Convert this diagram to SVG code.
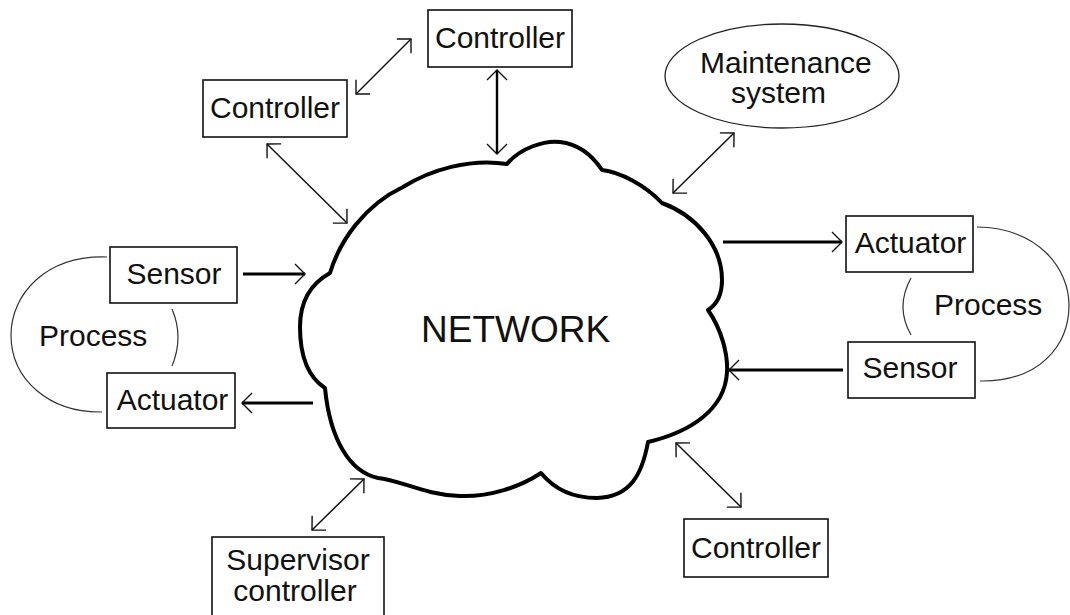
<svg xmlns="http://www.w3.org/2000/svg" width="1070" height="615" viewBox="0 0 1070 615">
  <style>
    .box { fill: #ffffff; stroke: #111111; stroke-width: 1.6; }
    .lbl { font-family: "Liberation Sans", Arial, sans-serif; font-size: 30px; fill: #111111; }
    .mid { text-anchor: middle; }
    .cloud { fill: #ffffff; stroke: #000000; stroke-width: 4; stroke-linejoin: round; }
    .loop { fill: none; stroke: #333333; stroke-width: 1.2; }
    .thin { stroke: #111111; stroke-width: 1.5; fill: none; }
    .thick { stroke: #000000; stroke-width: 3; fill: none; }
    .mid-w { stroke: #000000; stroke-width: 2.4; fill: none; }
    .tip { marker-end: url(#head); }
    .both { marker-start: url(#head); marker-end: url(#head); }
  </style>
  <defs>
    <!-- open V arrowhead, fixed size regardless of line weight -->
    <marker id="head" markerUnits="userSpaceOnUse" markerWidth="20" markerHeight="30" refX="0" refY="0" orient="auto-start-reverse" style="overflow:visible">
      <path d="M-10,-10 L0,0 L-10,10" fill="none" stroke="#111111" stroke-width="1.4"/>
    </marker>
  </defs>

  <rect width="1070" height="615" fill="#ffffff"/>

  <!-- central network cloud -->
  <g id="network">
    <path class="cloud" d="M507,164 C520,148 545,140 560,142 C578,144 592,155 602,170 C620,172 645,185 662,203 C695,215 722,245 722,280 C722,295 716,305 708,310 C722,330 728,355 727,372 C725,410 690,432 648,442 C642,475 630,497 597,498 C575,498 555,490 541,473 C520,487 490,497 460,496 C425,495 400,480 378,478 C350,472 330,440 325,388 C305,375 300,350 300,327 C300,300 312,283 330,273 C340,240 365,205 403,187 C430,170 470,158 507,164 Z"/>
    <text class="lbl" x="421" y="342" style="font-size:37px">NETWORK</text>
  </g>

  <!-- process loops -->
  <g id="process-left">
    <path class="loop" d="M107,257 C45,255 11,295 11,335 C11,380 50,413 102,412"/>
    <path class="loop" d="M172,309 Q184,337 172,366"/>
    <text class="lbl" x="39" y="346">Process</text>
  </g>
  <g id="process-right">
    <path class="loop" d="M977,227 C1040,228 1069,270 1069,305 C1069,345 1040,382 980,381"/>
    <path class="loop" d="M911,278 Q895,307 911,335"/>
    <text class="lbl" x="934" y="315">Process</text>
  </g>

  <g id="controller-top">
    <rect class="box" x="428" y="10" width="144" height="57"/>
    <text class="lbl mid" x="500" y="48">Controller</text>
  </g>
  <g id="controller-left">
    <rect class="box" x="203" y="80" width="144" height="57"/>
    <text class="lbl mid" x="275" y="118">Controller</text>
  </g>
  <g id="controller-bottom">
    <rect class="box" x="684" y="519" width="144" height="58"/>
    <text class="lbl mid" x="756" y="558">Controller</text>
  </g>
  <g id="maintenance">
    <ellipse cx="782" cy="76" rx="117" ry="52" fill="#ffffff" stroke="#222222" stroke-width="1.3"/>
    <text class="lbl" x="700" y="73">Maintenance</text>
    <text class="lbl" x="731" y="103">system</text>
  </g>
  <g id="sensor-left">
    <rect class="box" x="110" y="247" width="127" height="56"/>
    <text class="lbl mid" x="174" y="284">Sensor</text>
  </g>
  <g id="actuator-left">
    <rect class="box" x="107" y="373" width="128" height="55"/>
    <text class="lbl mid" x="172.5" y="410">Actuator</text>
  </g>
  <g id="actuator-right">
    <rect class="box" x="846" y="216" width="127" height="56"/>
    <text class="lbl mid" x="910.5" y="253">Actuator</text>
  </g>
  <g id="sensor-right">
    <rect class="box" x="848" y="342" width="127" height="56"/>
    <text class="lbl mid" x="910" y="378">Sensor</text>
  </g>
  <g id="supervisor">
    <rect class="box" x="212" y="537" width="172" height="100"/>
    <text class="lbl mid" x="298" y="570">Supervisor</text>
    <text class="lbl mid" x="295" y="601">controller</text>
  </g>

  <!-- links between the devices and the network -->
  <g id="connectors">
    <line class="thick tip" x1="243" y1="274" x2="305" y2="274"/>
    <line class="thick tip" x1="313" y1="403" x2="242" y2="403"/>
    <line class="thick tip" x1="723" y1="242" x2="842" y2="242"/>
    <line class="thick tip" x1="843" y1="370" x2="729" y2="370"/>
    <line class="thin both" x1="356" y1="94" x2="411" y2="39"/>
    <line class="thin both" x1="267" y1="144" x2="347" y2="223"/>
    <line class="mid-w both" x1="497" y1="70" x2="497" y2="154"/>
    <line class="thin both" x1="734" y1="133" x2="673" y2="193"/>
    <line class="thin both" x1="312" y1="530" x2="364" y2="479"/>
    <line class="thin both" x1="676" y1="443" x2="741" y2="507"/>
  </g>
</svg>
